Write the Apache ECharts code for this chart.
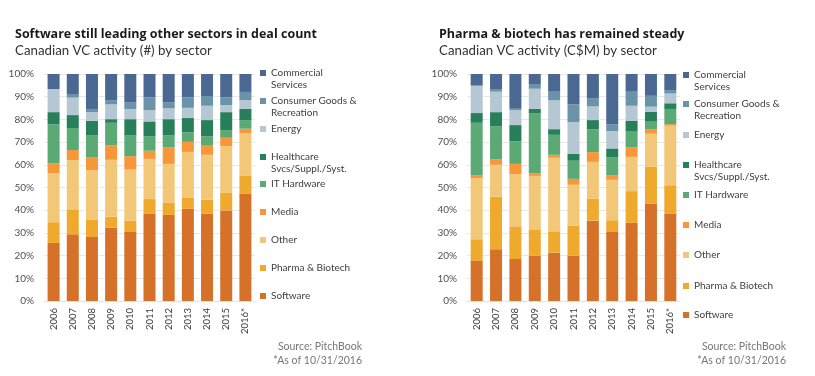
<!DOCTYPE html>
<html>
<head>
<meta charset="utf-8">
<script src="https://cdn.jsdelivr.net/npm/echarts@6/dist/echarts.min.js"></script>
<style>
  html, body { margin: 0; padding: 0; background: #fff; }
  #chart { width: 815px; height: 376px; }
</style>
</head>
<body>
<div id="chart"></div>
<script>
  // years on the x axis
  let years = ['2006', '2007', '2008', '2009', '2010', '2011', '2012', '2013', '2014', '2015', '2016*'];

  // left chart: share of deal count (%)
  let countSoftware   = [25.6, 29.4, 28.2, 32.2, 30.4, 38.5, 37.9, 40.6, 38.4, 39.9, 47.2];
  let countPharma     = [9.1, 11.0, 7.5, 4.9, 4.9, 6.4, 5.3, 4.8, 6.3, 7.7, 7.9];
  let countOther      = [21.6, 21.7, 21.9, 25.1, 22.6, 17.7, 17.2, 20.3, 19.7, 20.6, 18.9];
  let countMedia      = [4.3, 4.4, 5.6, 6.3, 5.9, 3.6, 7.2, 4.4, 4.0, 3.7, 1.9];
  let countIT         = [17.2, 9.7, 9.9, 10.0, 9.3, 6.4, 5.3, 4.2, 4.1, 3.4, 3.8];
  let countHealth     = [5.4, 5.7, 6.3, 1.6, 7.0, 6.5, 7.2, 6.3, 7.2, 7.9, 4.9];
  let countEnergy     = [10.2, 7.7, 3.8, 6.5, 4.5, 5.0, 4.8, 4.5, 6.3, 3.1, 3.9];
  let countConsumer   = [0, 1.6, 1.4, 1.9, 3.0, 5.6, 2.7, 4.6, 4.3, 3.4, 3.6];
  let countCommercial = [6.6, 8.8, 15.4, 11.5, 12.4, 10.3, 12.4, 10.3, 9.7, 10.3, 7.9];

  // right chart: share of capital invested (%)
  let capSoftware   = [17.9, 22.8, 18.5, 19.9, 21.3, 19.9, 35.4, 30.4, 34.4, 42.9, 38.5];
  let capPharma     = [9.3, 23.1, 14.1, 11.7, 9.4, 13.2, 9.6, 5.2, 14.0, 16.2, 12.5];
  let capOther      = [26.9, 14.1, 23.3, 23.5, 32.4, 18.1, 16.3, 17.8, 15.1, 14.6, 26.2];
  let capMedia      = [1.2, 2.5, 4.5, 1.2, 1.3, 2.6, 4.3, 1.9, 4.1, 2.0, 0.7];
  let capIT         = [23.2, 14.4, 10.0, 26.5, 8.8, 8.0, 10.1, 8.1, 7.3, 3.3, 6.7];
  let capHealth     = [4.3, 6.3, 7.1, 1.8, 2.5, 3.1, 4.0, 3.8, 4.4, 4.4, 2.5];
  let capEnergy     = [11.9, 9.0, 6.6, 8.9, 12.7, 13.9, 6.0, 7.7, 6.7, 2.2, 4.3];
  let capConsumer   = [0.3, 0.9, 0.6, 2.1, 4.1, 7.8, 3.7, 3.0, 6.5, 4.8, 1.5];
  let capCommercial = [5.0, 6.9, 15.3, 4.4, 7.5, 13.4, 10.6, 22.1, 7.5, 9.6, 7.1];

  // sectors, bottom of the stack first
  let sectors = ['Software', 'Pharma & Biotech', 'Other', 'Media', 'IT Hardware',
    'Healthcare Svcs/Suppl./Syst.', 'Energy', 'Consumer Goods & Recreation', 'Commercial Services'];
  // legend text: first line next to the swatch, second line (if any) underneath
  let sectorLine1 = ['Software', 'Pharma & Biotech', 'Other', 'Media', 'IT Hardware',
    'Healthcare', 'Energy', 'Consumer Goods &', 'Commercial'];
  let sectorLine2 = ['', '', '', '', '', 'Svcs/Suppl./Syst.', '', 'Recreation', 'Services'];
  let colors = ['#D6712A', '#EFAA2E', '#F2C878', '#F6973A', '#5BAA75', '#27805A', '#B5C7D2', '#6A93A9', '#4A6891'];

  let countData = [countSoftware, countPharma, countOther, countMedia, countIT, countHealth, countEnergy, countConsumer, countCommercial];
  let capData = [capSoftware, capPharma, capOther, capMedia, capIT, capHealth, capEnergy, capConsumer, capCommercial];

  let font = 'Lato';
  let chart = echarts.init(document.getElementById('chart'));

  let series = [];
  for (let i = 0; i < sectors.length; i++) {
    series.push({
      name: sectors[i], type: 'bar', stack: 'count', xAxisIndex: 0, yAxisIndex: 0,
      barWidth: 12, itemStyle: { color: colors[i] }, data: countData[i]
    });
  }
  for (let i = 0; i < sectors.length; i++) {
    series.push({
      name: sectors[i], type: 'bar', stack: 'cap', xAxisIndex: 1, yAxisIndex: 1,
      barWidth: 12, itemStyle: { color: colors[i] }, data: capData[i]
    });
  }

  // one legend per item so each can sit where the reference has it
  let leftCenters = [296, 268, 240, 212, 184, 157, 129, 101, 73];
  let rightCenters = [315, 286, 255, 225, 195, 165, 135, 104, 75];
  let legends = [];
  let graphics = [];
  let legendText = { fontFamily: font, fontSize: 10, color: '#404040', lineHeight: 13 };
  function addLegend(i, x, c) {
    legends.push({
      left: x,
      top: c - 6.5,
      padding: 0,
      icon: 'rect',
      itemWidth: 6,
      itemHeight: 6,
      selectedMode: false,
      data: [sectors[i]],
      formatter: function () { return sectorLine1[i]; },
      textStyle: legendText
    });
    if (sectorLine2[i]) {
      graphics.push({
        type: 'text', left: x + 11, top: c + 6.5,
        style: { text: sectorLine2[i], fontFamily: font, fontSize: 10, fill: '#404040' }
      });
    }
  }
  for (let i = 0; i < sectors.length; i++) {
    addLegend(i, 260, leftCenters[i]);
    addLegend(i, 683, rightCenters[i]);
  }

  function makeX(idx) {
    return {
      type: 'category', gridIndex: idx, data: years,
      axisLine: { show: true, lineStyle: { color: '#e3e3e3' } },
      axisTick: { show: false },
      axisLabel: { rotate: 90, margin: 7, fontFamily: font, fontSize: 9.5, color: '#404040' }
    };
  }
  function makeY(idx) {
    return {
      type: 'value', gridIndex: idx, min: 0, max: 100, interval: 10,
      axisLine: { show: false }, axisTick: { show: false },
      splitLine: { lineStyle: { color: '#e8e8e8' } },
      axisLabel: { formatter: '{value}%', margin: 10, fontFamily: font, fontSize: 10, color: '#505050' }
    };
  }

  // source notes under each chart
  let noteStyle = { fontFamily: font, fontSize: 10.5, fill: '#777', align: 'right' };
  graphics.push(
    { type: 'text', right: 815 - 362, top: 341, style: Object.assign({ text: 'Source: PitchBook' }, noteStyle) },
    { type: 'text', right: 815 - 362, top: 355, style: Object.assign({ text: '*As of 10/31/2016' }, noteStyle) },
    { type: 'text', right: 815 - 786, top: 341, style: Object.assign({ text: 'Source: PitchBook' }, noteStyle) },
    { type: 'text', right: 815 - 786, top: 355, style: Object.assign({ text: '*As of 10/31/2016' }, noteStyle) }
  );

  let titleFont = { fontFamily: 'Open Sans', fontWeight: 'bold', fontSize: 12.5, color: '#1a1a1a' };
  let subFont = { fontFamily: font, fontWeight: 'normal', fontSize: 13.3, color: '#333' };
  let option = {
    animation: false,
    title: [
      { text: 'Software still leading other sectors in deal count', left: 10, top: 23, textStyle: titleFont },
      { text: 'Canadian VC activity (#) by sector', left: 10, top: 39, textStyle: subFont },
      { text: 'Pharma & biotech has remained steady', left: 434, top: 23, textStyle: titleFont },
      { text: 'Canadian VC activity (C$M) by sector', left: 434, top: 39, textStyle: subFont }
    ],
    legend: legends,
    grid: [
      { left: 44, right: 560, top: 74, bottom: 75 },
      { left: 467, right: 135, top: 74, bottom: 75 }
    ],
    xAxis: [makeX(0), makeX(1)],
    yAxis: [makeY(0), makeY(1)],
    graphic: graphics,
    series: series
  };
  chart.setOption(option);
</script>
</body>
</html>
